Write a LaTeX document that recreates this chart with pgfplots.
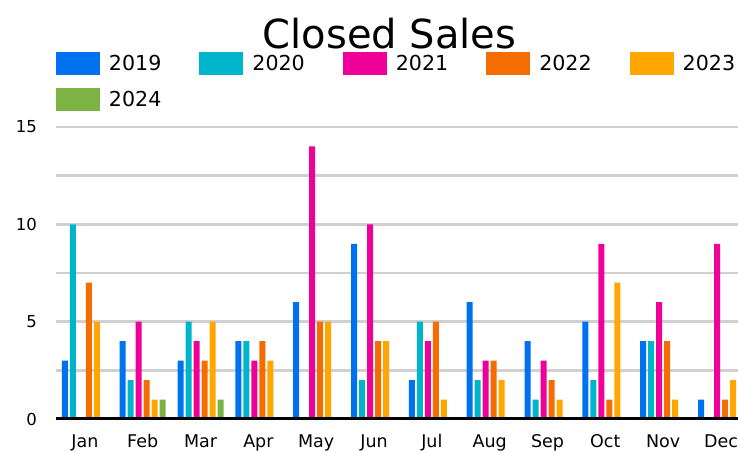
\documentclass[border=0pt]{standalone}
\usepackage{pgfplots}
\pgfplotsset{compat=1.18}
\usepackage{pgfplotstable}
\usepackage{fontspec}
\setmainfont{DejaVu Sans}

\definecolor{c2019}{HTML}{0072F0}
\definecolor{c2020}{HTML}{00B4CB}
\definecolor{c2021}{HTML}{EE0099}
\definecolor{c2022}{HTML}{F56C00}
\definecolor{c2023}{HTML}{FFA600}
\definecolor{c2024}{HTML}{7DB343}
\definecolor{gridgray}{HTML}{D0D0D0}

% month index, then closed sales per year
\pgfplotstableread{
m  y2019 y2020 y2021 y2022 y2023 y2024
0  3     10    0     7     5     0
1  4     2     5     2     1     1
2  3     5     4     3     5     1
3  4     4     3     4     3     0
4  6     0     14    5     5     0
5  9     2     10    4     4     0
6  2     5     4     5     1     0
7  6     2     3     3     2     0
8  4     1     3     2     1     0
9  5     2     9     1     7     0
10 4     4     6     4     1     0
11 1     0     9     1     2     0
}\sales

\begin{document}
\begin{tikzpicture}
\useasboundingbox (-56bp,-33bp) rectangle (682bp,419bp);
\clip (-56bp,-33bp) rectangle (682bp,419bp);
\begin{axis}[
    at={(0,0)}, anchor=south west,
    scale only axis,
    width=682bp, height=292bp,
    xmin=-0.5, xmax=11.294,
    ymin=0, ymax=15,
    ybar=2bp, bar width=6bp,
    axis line style={draw=none},
    tick style={draw=none},
    xtick={0,...,11},
    xticklabels={Jan,Feb,Mar,Apr,May,Jun,Jul,Aug,Sep,Oct,Nov,Dec},
    xticklabel style={anchor=base, inner sep=0pt, yshift=-24bp, font=\fontsize{17.5bp}{20bp}\selectfont},
    ytick={5,10,15},
    minor ytick={2.5,7.5,12.5},
    extra y ticks={0},
    extra y tick style={grid=none},
    yticklabel style={anchor=east, inner sep=0pt, xshift=-19bp, font=\fontsize{16.5bp}{20bp}\selectfont},
    /pgf/number format/assume math mode=true,
    ymajorgrids, yminorgrids,
    major grid style={gridgray, line width=2.7bp},
    minor grid style={gridgray, line width=2.7bp},
    title={Closed Sales},
    title style={at={(axis description cs:0.489,1.25)}, anchor=base, inner sep=0pt, font=\fontsize{40bp}{48bp}\selectfont},
    legend columns=5,
    legend image code/.code={\fill[#1] (0bp,-11.5bp) rectangle (44bp,11.5bp);},
    legend style={draw=none, fill=none, inner sep=0pt, outer sep=0pt,
        at={(axis description cs:0,1.2568)}, anchor=north west,
        font=\fontsize{20.6bp}{24bp}\selectfont,
        column sep=9bp, row sep=13bp,
        /tikz/every even column/.append style={column sep=38bp},
        nodes={inner sep=0pt}},
    legend cell align=left,
]
\addplot[fill=c2019, draw=none] table[x=m, y=y2019] {\sales};
\addplot[fill=c2020, draw=none] table[x=m, y=y2020] {\sales};
\addplot[fill=c2021, draw=none] table[x=m, y=y2021] {\sales};
\addplot[fill=c2022, draw=none] table[x=m, y=y2022] {\sales};
\addplot[fill=c2023, draw=none] table[x=m, y=y2023] {\sales};
\addplot[fill=c2024, draw=none] table[x=m, y=y2024] {\sales};
\legend{2019,2020,2021,2022,2023,2024}
\draw[black, line width=3.3bp] (axis cs:-0.5,0) -- (axis cs:11.294,0);
\end{axis}
\end{tikzpicture}
\end{document}
